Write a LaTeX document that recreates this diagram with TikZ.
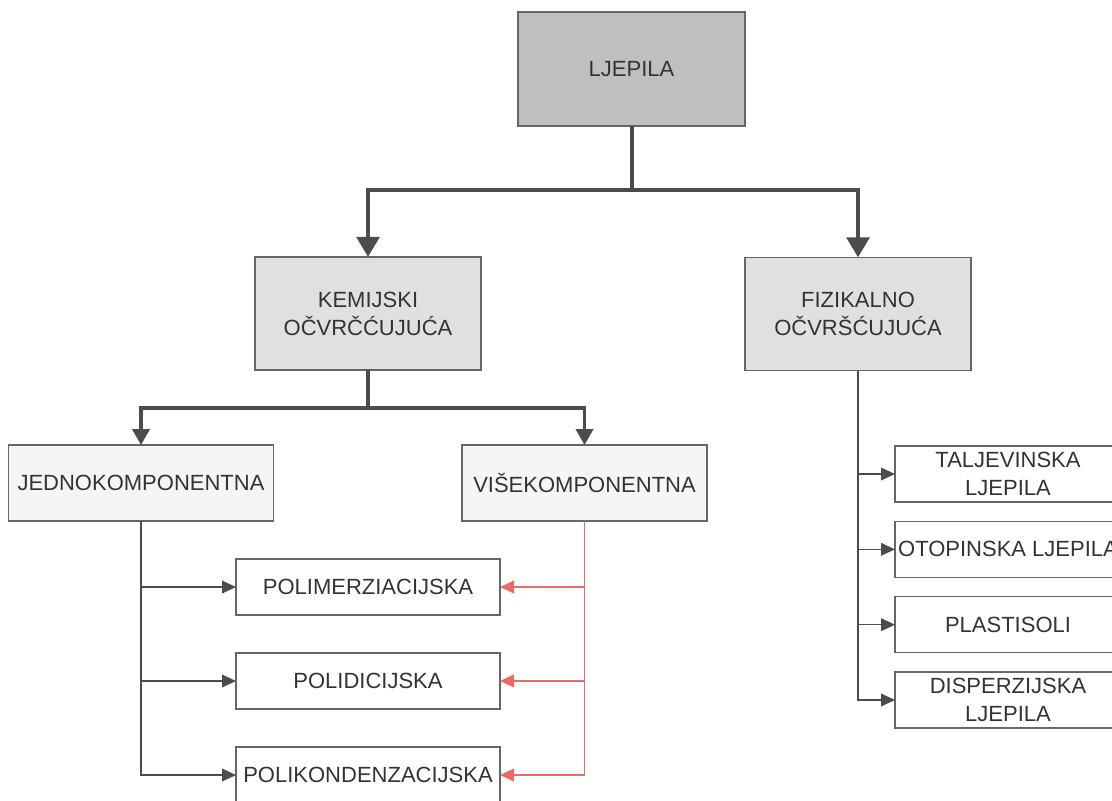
\documentclass[tikz,border=0pt]{standalone}
\usepackage{fontspec}
\setmainfont{Liberation Sans}
\usepackage{xcolor}
\usepackage{tikz}
\usetikzlibrary{arrows.meta,positioning,calc}
\definecolor{redline}{HTML}{EA6B66}

\begin{document}
\begin{tikzpicture}[
  x=0.75pt, y=-0.75pt,
  node distance=28.5pt,
  box/.style={rectangle, draw=black!60, line width=1.1pt, text=black!80, inner sep=0pt, outer sep=0pt, align=center, font=\fontsize{16.5}{21}\selectfont},
  root/.style={box, fill=black!25, minimum width=170pt, minimum height=85.5pt},
  kind/.style={box, fill=black!12, minimum width=169.5pt, minimum height=85pt},
  sub/.style={box, fill=black!4, minimum height=57pt},
  leaf/.style={box, fill=white, minimum height=42pt},
  bigarrow/.style={-{Triangle[length=15pt,width=17pt]}, black!70, line width=3pt},
  midarrow/.style={-{Triangle[length=12pt,width=13pt]}, black!70, line width=2.3pt},
  arrow/.style={-{Triangle[length=10.5pt,width=9.5pt]}, black!70, line width=1.1pt},
  redarrow/.style={-{Triangle[length=10.5pt,width=9.5pt]}, redline, line width=1.1pt}
]
\useasboundingbox (0,0) rectangle (1112,800);

% Top
\node[root] (ljepila) at (631.5,69) {LJEPILA};

% Two main kinds
\node[kind] (kemijski) at (368,313.5) {KEMIJSKI\\OČVRČĆUJUĆA};
\node[kind] (fizikalno) at (858,314) {FIZIKALNO\\OČVRŠĆUJUĆA};

% Chemical branch
\node[sub, minimum width=198.75pt] (jedno) at (141,483) {JEDNOKOMPONENTNA};
\node[sub, minimum width=183.75pt] (vise) at (584.5,483) {VIŠEKOMPONENTNA};

\node[leaf, minimum width=198pt] (polim) at (368,587) {POLIMERZIACIJSKA};
\node[leaf, minimum width=198pt, below=of polim] (polid) {POLIDICIJSKA};
\node[leaf, minimum width=198pt, below=of polid] (polik) {POLIKONDENZACIJSKA};

% Physical branch
\node[leaf, minimum width=169.5pt] (talj) at (1008,474) {TALJEVINSKA\\LJEPILA};
\node[leaf, minimum width=169.5pt, below=14.5pt of talj] (otop) {OTOPINSKA LJEPILA};
\node[leaf, minimum width=169.5pt, below=14.5pt of otop] (plast) {PLASTISOLI};
\node[leaf, minimum width=169.5pt, below=14.5pt of plast] (disp) {DISPERZIJSKA\\LJEPILA};

% Split points
\coordinate (split1) at (631.5,190);
\coordinate (split2) at (368,408);

% Arrows
\draw[bigarrow] (ljepila.south) -- (split1) -| (kemijski.north);
\draw[bigarrow] (ljepila.south) -- (split1) -| (fizikalno.north);
\draw[midarrow] (kemijski.south) -- (split2) -| (jedno.north);
\draw[midarrow] (kemijski.south) -- (split2) -| (vise.north);

\draw[arrow] (jedno.south |- polim.west) -- (polim.west);
\draw[arrow] (jedno.south |- polid.west) -- (polid.west);
\draw[arrow] (jedno.south) |- (polik.west);

\draw[redarrow] (vise.south |- polim.east) -- (polim.east);
\draw[redarrow] (vise.south |- polid.east) -- (polid.east);
\draw[redarrow] (vise.south) |- (polik.east);

\draw[arrow] (fizikalno.south |- talj.west) -- (talj.west);
\draw[arrow] (fizikalno.south |- otop.west) -- (otop.west);
\draw[arrow] (fizikalno.south |- plast.west) -- (plast.west);
\draw[arrow] (fizikalno.south) |- (disp.west);

\end{tikzpicture}
\end{document}
